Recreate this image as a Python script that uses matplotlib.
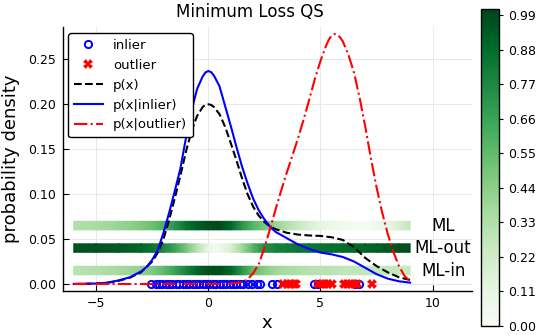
import numpy as np
import matplotlib
matplotlib.use("Agg")
import matplotlib.pyplot as plt
from matplotlib.colors import Normalize
from matplotlib.cm import ScalarMappable

# density curves
x_in = [-6, -5, -4.5, -4, -3.5, -3, -2.75, -2.5, -2.25, -2, -1.75, -1.5, -1.25, -1, -0.75, -0.5,
        -0.25, -0.125, 0, 0.125, 0.25, 0.5, 0.75, 1, 1.25, 1.5, 1.75, 2, 2.25, 2.5, 2.75, 3, 3.5,
        4, 4.5, 5, 5.5, 6, 6.5, 7, 7.5, 8, 8.5, 9]
p_inlier = [0.0, 0.0005, 0.0015, 0.004, 0.0075, 0.014, 0.019, 0.027, 0.038, 0.057, 0.079, 0.103,
            0.128, 0.162, 0.193, 0.217, 0.231, 0.2355, 0.237, 0.2358, 0.232, 0.22, 0.198, 0.176,
            0.153, 0.131, 0.112, 0.095, 0.082, 0.072, 0.064, 0.058, 0.051, 0.044, 0.039, 0.035,
            0.033, 0.03, 0.025, 0.018, 0.011, 0.006, 0.003, 0.0015]

x_all = [-6, -5, -4.5, -4, -3.5, -3, -2.5, -2.25, -2, -1.75, -1.5, -1.25, -1, -0.75, -0.5, -0.25,
         -0.125, 0, 0.125, 0.25, 0.5, 0.75, 1, 1.25, 1.5, 1.75, 2, 2.25, 2.5, 2.75, 3, 3.5, 4, 4.5,
         5, 5.5, 6, 6.5, 7, 7.5, 8, 8.5, 9]
p_all = [0.0, 0.0005, 0.0013, 0.0035, 0.007, 0.013, 0.025, 0.035, 0.05, 0.071, 0.095, 0.12, 0.147,
         0.17, 0.187, 0.197, 0.1995, 0.2, 0.1993, 0.197, 0.189, 0.175, 0.157, 0.138, 0.118, 0.1,
         0.086, 0.076, 0.069, 0.064, 0.061, 0.057, 0.055, 0.054, 0.0535, 0.052, 0.049, 0.041,
         0.029, 0.02, 0.013, 0.0075, 0.0045]

x_out = [-6, 0.5, 1.0, 1.5, 1.75, 2.0, 2.25, 2.5, 2.75, 3.0, 3.25, 3.5, 3.75, 4.0, 4.25, 4.5, 4.75,
         5.0, 5.25, 5.375, 5.5, 5.625, 5.75, 5.875, 6.0, 6.25, 6.5, 6.75, 7.0, 7.25, 7.5, 7.75,
         8.0, 8.25, 8.5, 8.75, 9.0]
p_outlier = [0.0, 0.0, 0.0005, 0.002, 0.005, 0.012, 0.022, 0.04, 0.061, 0.083, 0.104, 0.124, 0.143,
             0.162, 0.183, 0.205, 0.228, 0.248, 0.265, 0.272, 0.2765, 0.2782, 0.2775, 0.2745,
             0.27, 0.255, 0.235, 0.207, 0.175, 0.14, 0.108, 0.08, 0.056, 0.036, 0.02, 0.009, 0.003]

# sample points
inliers = [-2.55, -2.35, -2.2, -2.05, -1.9, -1.75, -1.6, -1.45, -1.3, -1.15, -1.0, -0.85, -0.7,
           -0.55, -0.4, -0.25, -0.1, 0.05, 0.2, 0.35, 0.5, 0.65, 0.8, 0.95, 1.1, 1.25, 1.4, 1.55,
           1.75, 1.95, 2.15, 2.3, 2.85, 3.05, 4.7, 4.9, 6.55, 6.7]
outliers = [3.35, 3.5, 3.65, 3.8, 3.9, 4.9, 5.05, 5.2, 5.35, 5.5, 6.05, 6.2, 6.35, 6.5, 6.65, 7.3]

# heat strips
strip_x = [-6, -5, -4, -3, -2.5, -2, -1.5, -1, -0.5, 0, 0.3, 0.5, 1, 1.5, 2, 2.5, 3, 3.5, 4, 4.5, 5,
           5.5, 6, 6.5, 7, 7.5, 8, 8.5, 9]
ml = [0.32, 0.35, 0.4, 0.47, 0.52, 0.6, 0.72, 0.85, 0.93, 0.97, 0.99, 0.99, 0.9, 0.72, 0.58, 0.48,
      0.4, 0.32, 0.25, 0.18, 0.12, 0.08, 0.04, 0.02, 0.01, 0.04, 0.1, 0.18, 0.27]
ml_out = [0.97, 0.96, 0.94, 0.9, 0.85, 0.78, 0.66, 0.5, 0.3, 0.1, 0.02, 0.05, 0.18, 0.38, 0.58, 0.75,
          0.8, 0.82, 0.84, 0.85, 0.86, 0.87, 0.88, 0.89, 0.9, 0.92, 0.95, 0.97, 0.98]
ml_in = [0.3, 0.32, 0.36, 0.42, 0.47, 0.55, 0.66, 0.78, 0.9, 0.97, 0.98, 0.98, 0.9, 0.72, 0.55, 0.45,
         0.38, 0.35, 0.33, 0.31, 0.3, 0.29, 0.28, 0.28, 0.27, 0.27, 0.26, 0.26, 0.25]
strip_names = ["ML", "ML-out", "ML-in"]
strip_y = [0.065, 0.040, 0.015]

cbar_ticks = [0.0, 0.11, 0.22, 0.33, 0.44, 0.55, 0.66, 0.77, 0.88, 0.99]

fig = plt.figure(figsize=(5.4, 3.36), dpi=100)
ax = fig.add_axes([63 / 540, 1 - 291 / 336, 409 / 540, 264 / 336])
cax = fig.add_axes([481 / 540, 1 - 326 / 336, 18 / 540, 317 / 336])

cmap = plt.get_cmap("Greens")
norm = Normalize(vmin=0.0, vmax=1.01)

# strips
h = 0.0095
for vals, yc in zip([ml, ml_out, ml_in], strip_y):
    X = np.vstack([strip_x, strip_x])
    Y = np.vstack([np.full(len(strip_x), yc - h / 2), np.full(len(strip_x), yc + h / 2)])
    C = np.vstack([vals, vals])
    ax.pcolormesh(X, Y, C, cmap=cmap, norm=norm, shading="gouraud", zorder=1)
for name, yc in zip(strip_names, strip_y):
    ax.text(10.47, yc, name, ha="center", va="center", fontsize=12)

ax.plot(inliers, np.zeros(len(inliers)), "o", mfc="none", mec="blue", mew=1.4, ms=5.2,
        label="inlier", zorder=3)
ax.plot(outliers, np.zeros(len(outliers)), "X", color="red", mec="red", mew=0, ms=6.5,
        label="outlier", zorder=3)
ax.plot(x_all, p_all, "--", color="black", lw=1.5, label="p(x)", zorder=4)
ax.plot(x_in, p_inlier, "-", color="blue", lw=1.5, label="p(x|inlier)", zorder=4)
ax.plot(x_out, p_outlier, "-.", color="red", lw=1.5, label="p(x|outlier)", zorder=4)

ax.set_xlim(-6.48, 11.76)
ax.set_ylim(-0.0078, 0.286)
ax.set_xticks([-5, 0, 5, 10])
ax.set_yticks([0.0, 0.05, 0.10, 0.15, 0.20, 0.25])
ax.set_yticklabels(["0.00", "0.05", "0.10", "0.15", "0.20", "0.25"])
ax.tick_params(direction="in", length=4, width=0.8, labelsize=9)
ax.tick_params(axis="x", pad=4)
ax.tick_params(axis="y", pad=5)
ax.grid(True, color="#e8e8e8", lw=0.7, zorder=0)
ax.set_axisbelow(True)
for s in ["top", "right"]:
    ax.spines[s].set_visible(False)
for s in ["left", "bottom"]:
    ax.spines[s].set_linewidth(1.0)

leg = ax.legend(loc="upper left", bbox_to_anchor=(0.012, 0.977), borderaxespad=0, fontsize=9.5,
                handlelength=2.2, handletextpad=0.75, labelspacing=0.52, borderpad=0.45,
                framealpha=1, edgecolor="black", fancybox=True)
leg.get_frame().set_linewidth(1.0)

fig.text(250 / 540, 1 - 12 / 336, "Minimum Loss QS", ha="center", va="center", fontsize=12)
fig.text(267 / 540, 1 - 323 / 336, "x", ha="center", va="center", fontsize=13)
fig.text(11 / 540, 1 - 159 / 336, "probability density", rotation=90, ha="center", va="center",
         fontsize=13)

cb = fig.colorbar(ScalarMappable(norm=norm, cmap=cmap), cax=cax)
cb.set_ticks(cbar_ticks)
cb.set_ticklabels(["%.2f" % t for t in cbar_ticks])
cb.ax.tick_params(direction="out", length=3, width=0.8, labelsize=9)
cb.outline.set_linewidth(1.0)

fig.savefig("out.png", dpi=100)
